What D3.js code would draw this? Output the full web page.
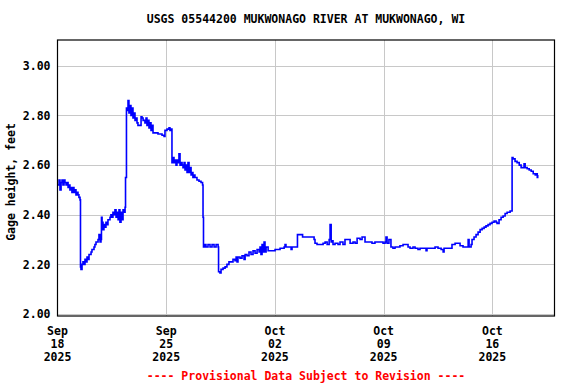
<!DOCTYPE html>
<html>
<head>
<meta charset="utf-8">
<script src="https://cdn.jsdelivr.net/npm/d3@7"></script>
<style>
    body { margin: 0; background: #fff; }
    svg text { font-family: "DejaVu Sans Mono", "Liberation Mono", monospace; font-weight: bold; font-size: 11.5px; }
</style>
</head>
<body>
<div id="chart"></div>
<script>
// Gage height. Times are days after 2025-09-18 00:00.
var startDate = "2025-09-18";
var endDate = "2025-10-20";
var dayOffsets = [
    0.03, 0.10, 0.16, 0.23, 0.29, 0.35, 0.42, 0.48, 0.55, 0.61, 0.68, 0.74, 0.80, 0.87, 0.93, 1.00,
    1.06, 1.13, 1.19, 1.26, 1.32, 1.38, 1.45, 1.48, 1.51, 1.58, 1.64, 1.71, 1.77, 1.84, 1.90, 1.96,
    2.03, 2.09, 2.16, 2.22, 2.29, 2.35, 2.41, 2.48, 2.54, 2.61, 2.67, 2.74, 2.80, 2.83, 2.87, 2.93,
    2.99, 3.06, 3.12, 3.19, 3.25, 3.32, 3.38, 3.44, 3.51, 3.57, 3.64, 3.70, 3.77, 3.83, 3.90, 3.96,
    4.02, 4.09, 4.15, 4.22, 4.28, 4.35, 4.38, 4.41, 4.44, 4.48, 4.54, 4.60, 4.67, 4.73, 4.80, 4.86,
    4.93, 4.99, 5.05, 5.12, 5.18, 5.31, 5.38, 5.44, 5.51, 5.57, 5.63, 5.70, 5.76, 5.83, 5.89, 5.96,
    6.02, 6.09, 6.15, 6.28, 6.47, 6.73, 6.86, 6.92, 7.05, 7.18, 7.24, 7.31, 7.37, 7.44, 7.50, 7.57,
    7.63, 7.69, 7.76, 7.82, 7.89, 7.95, 8.02, 8.08, 8.15, 8.21, 8.27, 8.34, 8.40, 8.47, 8.53, 8.60,
    8.66, 8.72, 8.79, 8.85, 8.98, 9.11, 9.24, 9.34, 9.37, 9.40, 9.50, 9.56, 9.69, 9.82, 9.95, 10.08,
    10.21, 10.34, 10.37, 10.46, 10.53, 10.66, 10.79, 10.91, 11.04, 11.17, 11.30, 11.43, 11.50, 11.56, 11.62, 11.75,
    11.88, 12.01, 12.08, 12.20, 12.33, 12.46, 12.59, 12.72, 12.85, 12.98, 13.04, 13.10, 13.17, 13.23, 13.30, 13.36,
    13.43, 13.56, 13.68, 13.81, 14.01, 14.20, 14.33, 14.59, 14.65, 14.71, 14.97, 15.04, 15.10, 15.42, 15.45, 15.74,
    15.78, 16.45, 16.52, 16.58, 16.71, 16.90, 17.10, 17.23, 17.36, 17.49, 17.55, 17.62, 17.68, 17.74, 17.87, 18.06,
    18.19, 18.38, 18.51, 18.71, 18.84, 19.03, 19.16, 19.29, 19.48, 19.61, 19.80, 20.12, 20.25, 20.44, 20.77, 20.96,
    21.09, 21.15, 21.22, 21.34, 21.47, 21.60, 21.73, 21.93, 22.05, 22.25, 22.44, 22.57, 22.70, 22.89, 23.02, 23.21,
    23.34, 23.60, 23.73, 23.79, 24.12, 24.31, 24.50, 24.70, 24.83, 24.89, 25.08, 25.27, 25.40, 25.60, 25.79, 25.92,
    26.11, 26.31, 26.44, 26.50, 26.63, 26.69, 26.82, 26.95, 27.08, 27.21, 27.34, 27.47, 27.59, 27.72, 27.85, 27.98,
    28.11, 28.24, 28.30, 28.43, 28.56, 28.69, 28.82, 28.95, 29.14, 29.23, 29.27, 29.33, 29.46, 29.59, 29.73, 29.85,
    29.98, 30.04, 30.11, 30.24, 30.37, 30.50, 30.63, 30.76, 30.83, 30.89, 30.92
];
var gageHeight = [
    2.52, 2.54, 2.50, 2.53, 2.54, 2.52, 2.54, 2.53, 2.52, 2.53, 2.51, 2.52, 2.50, 2.51, 2.49, 2.51,
    2.49, 2.50, 2.48, 2.49, 2.48, 2.47, 2.46, 2.19, 2.18, 2.20, 2.21, 2.20, 2.22, 2.21, 2.23, 2.22,
    2.24, 2.24, 2.25, 2.26, 2.26, 2.27, 2.28, 2.29, 2.29, 2.30, 2.32, 2.29, 2.30, 2.39, 2.37, 2.34,
    2.36, 2.35, 2.37, 2.36, 2.38, 2.38, 2.39, 2.40, 2.39, 2.41, 2.40, 2.42, 2.39, 2.41, 2.38, 2.42,
    2.37, 2.41, 2.38, 2.42, 2.41, 2.43, 2.55, 2.55, 2.83, 2.82, 2.86, 2.81, 2.84, 2.80, 2.83, 2.79,
    2.81, 2.78, 2.79, 2.77, 2.76, 2.76, 2.795, 2.79, 2.78, 2.78, 2.77, 2.79, 2.76, 2.78, 2.75, 2.77,
    2.74, 2.76, 2.73, 2.73, 2.725, 2.72, 2.715, 2.74, 2.745, 2.75, 2.74, 2.745, 2.61, 2.63, 2.61, 2.62,
    2.60, 2.62, 2.61, 2.645, 2.60, 2.61, 2.60, 2.59, 2.61, 2.58, 2.60, 2.57, 2.61, 2.57, 2.59, 2.56,
    2.57, 2.55, 2.56, 2.55, 2.54, 2.535, 2.53, 2.52, 2.39, 2.27, 2.28, 2.27, 2.28, 2.27, 2.28, 2.27,
    2.28, 2.27, 2.17, 2.165, 2.18, 2.185, 2.19, 2.20, 2.21, 2.21, 2.22, 2.215, 2.23, 2.21, 2.23, 2.225,
    2.235, 2.22, 2.24, 2.235, 2.25, 2.24, 2.255, 2.245, 2.26, 2.25, 2.27, 2.24, 2.28, 2.25, 2.29, 2.25,
    2.27, 2.255, 2.255, 2.255, 2.26, 2.26, 2.265, 2.27, 2.28, 2.27, 2.27, 2.26, 2.27, 2.27, 2.32, 2.32,
    2.31, 2.31, 2.30, 2.285, 2.28, 2.28, 2.285, 2.29, 2.28, 2.30, 2.36, 2.29, 2.295, 2.28, 2.285, 2.28,
    2.29, 2.28, 2.30, 2.30, 2.285, 2.29, 2.285, 2.305, 2.30, 2.31, 2.29, 2.29, 2.285, 2.29, 2.29, 2.285,
    2.29, 2.31, 2.285, 2.30, 2.27, 2.265, 2.27, 2.27, 2.275, 2.28, 2.28, 2.27, 2.265, 2.27, 2.265, 2.26,
    2.265, 2.265, 2.255, 2.265, 2.265, 2.27, 2.265, 2.26, 2.25, 2.265, 2.265, 2.265, 2.28, 2.285, 2.285, 2.275,
    2.27, 2.27, 2.30, 2.27, 2.28, 2.30, 2.31, 2.32, 2.33, 2.34, 2.345, 2.35, 2.355, 2.36, 2.365, 2.37,
    2.375, 2.37, 2.365, 2.38, 2.39, 2.395, 2.405, 2.41, 2.415, 2.415, 2.63, 2.625, 2.615, 2.61, 2.60, 2.59,
    2.59, 2.605, 2.59, 2.585, 2.58, 2.575, 2.565, 2.56, 2.565, 2.55, 2.56
];
var yTicks = [2.00, 2.20, 2.40, 2.60, 2.80, 3.00];
var xTicks = ["2025-09-18", "2025-09-25", "2025-10-02", "2025-10-09", "2025-10-16"];
var title = "USGS 05544200 MUKWONAGO RIVER AT MUKWONAGO, WI";
var yLabel = "Gage height, feet";
var footer = "---- Provisional Data Subject to Revision ----";

var svgWidth = 576, svgHeight = 384;
var plot = {left: 57.5, right: 554.5, top: 40, bottom: 316};

var parseDay = d3.utcParse("%Y-%m-%d");
var t0 = parseDay(startDate);
var series = dayOffsets.map(function (d, i) {
    return {date: new Date(t0.getTime() + d * 86400000), value: gageHeight[i]};
});

var x = d3.scaleUtc().domain([t0, parseDay(endDate)]).range([plot.left, plot.right]);
var y = d3.scaleLinear().domain([1.992, 3.104]).range([plot.bottom, plot.top]);

var svg = d3.select("#chart").append("svg")
    .attr("width", svgWidth)
    .attr("height", svgHeight);

// grid
svg.append("g").selectAll("line.hgrid")
    .data(yTicks).enter().append("line")
    .attr("x1", plot.left).attr("x2", plot.right)
    .attr("y1", function (d) { return Math.round(y(d)) + 0.5; })
    .attr("y2", function (d) { return Math.round(y(d)) + 0.5; })
    .attr("stroke", "#c8c8c8").attr("stroke-width", 1);

svg.append("g").selectAll("line.vgrid")
    .data(xTicks.slice(1)).enter().append("line")
    .attr("x1", function (d) { return Math.round(x(parseDay(d))) + 0.5; })
    .attr("x2", function (d) { return Math.round(x(parseDay(d))) + 0.5; })
    .attr("y1", plot.top).attr("y2", plot.bottom)
    .attr("stroke", "#c8c8c8").attr("stroke-width", 1);

// data line
var line = d3.line()
    .x(function (d) { return x(d.date); })
    .y(function (d) { return y(d.value); })
    .curve(d3.curveStepAfter);

svg.append("path")
    .datum(series)
    .attr("d", line)
    .attr("fill", "none")
    .attr("stroke", "#0000ff")
    .attr("stroke-width", 1.6);

// frame
svg.append("rect")
    .attr("x", plot.left).attr("y", plot.top)
    .attr("width", plot.right - plot.left).attr("height", plot.bottom - plot.top)
    .attr("fill", "none").attr("stroke", "#000").attr("stroke-width", 1.2);

// y axis
var yAxis = svg.append("g")
    .attr("transform", "translate(" + plot.left + ",0)")
    .call(d3.axisLeft(y).tickValues(yTicks).tickFormat(d3.format(".2f")).tickSize(0).tickPadding(7));
yAxis.select(".domain").remove();
yAxis.selectAll("text").attr("fill", "#000").style("font-size", "11.5px")
    .style("font-family", "'DejaVu Sans Mono', monospace").style("font-weight", "bold");

// x axis, three line labels
var fmtMon = d3.utcFormat("%b"), fmtDay = d3.utcFormat("%d"), fmtYear = d3.utcFormat("%Y");
var xLab = svg.append("g").selectAll("text.xlab")
    .data(xTicks).enter().append("text")
    .attr("text-anchor", "middle")
    .attr("fill", "#000");
[fmtMon, fmtDay, fmtYear].forEach(function (f, k) {
    xLab.append("tspan")
        .attr("x", function (d) { return x(parseDay(d)); })
        .attr("y", 335 + k * 13)
        .text(function (d) { return f(parseDay(d)); });
});

// title and labels
svg.append("text")
    .attr("x", (plot.left + plot.right) / 2).attr("y", 23)
    .attr("text-anchor", "middle")
    .text(title);

svg.append("text")
    .attr("transform", "translate(15,182) rotate(-90)")
    .attr("text-anchor", "middle")
    .text(yLabel);

svg.append("text")
    .attr("x", (plot.left + plot.right) / 2).attr("y", 380)
    .attr("text-anchor", "middle")
    .attr("fill", "#ff0000")
    .text(footer);
</script>
</body>
</html>
